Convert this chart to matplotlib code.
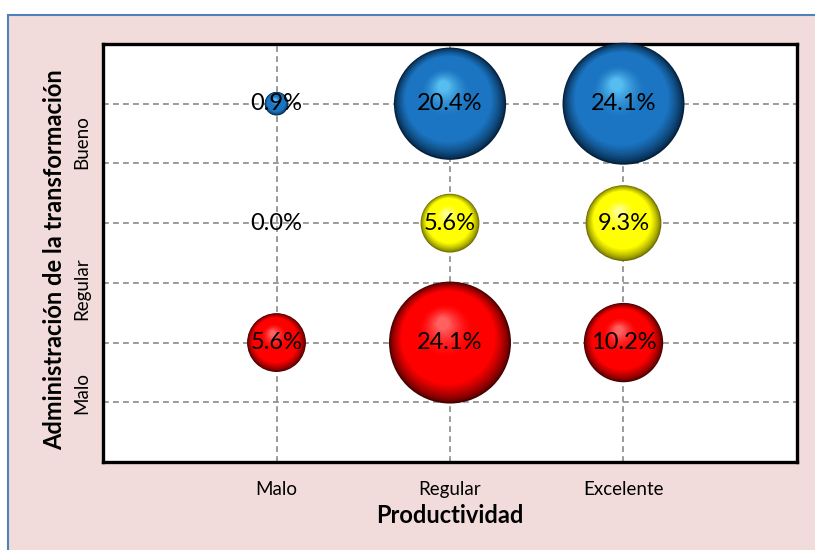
import numpy as np
import matplotlib
matplotlib.use("Agg")
from matplotlib import pyplot as plt
from matplotlib import transforms
from matplotlib.colors import to_rgb
from matplotlib.patches import Rectangle

plt.rcParams['font.family'] = ['Lato', 'DejaVu Sans']

# --- Data: share of cases for each productivity / administration pair
x_labels = ["Malo", "Regular", "Excelente"]
y_labels = ["Malo", "Regular", "Bueno"]
x_pos = [1, 2, 3]
y_pos = [2, 4, 6]

# rows: administración Malo, Regular, Bueno ; columns: productividad Malo, Regular, Excelente
values = [
    [5.6, 24.1, 10.2],
    [0.0, 5.6, 9.3],
    [0.9, 20.4, 24.1],
]

# dark rim, base colour, highlight for each row
row_colors = [
    ("#4a0000", "#ff0000", "#ff6a6a"),
    ("#6b6b00", "#ffff00", "#ffff9a"),
    ("#04213d", "#1b75c2", "#5cc4f5"),
]

size_scale = 320.0  # marker area (pt^2) per percentage point

fig = plt.figure(figsize=(8.15, 5.5), dpi=100, facecolor="white")
fig.patches.append(Rectangle((8 / 815, -0.01), 1.0, 1 - 15 / 550 + 0.01,
                             transform=fig.transFigure, facecolor="#f2dcdb",
                             edgecolor="#4f81bd", linewidth=1.5, zorder=-10))

ax = fig.add_axes([103 / 815, 1 - 462 / 550, 694 / 815, 418 / 550])
ax.set_facecolor("white")
ax.set_xlim(0, 4)
ax.set_ylim(0, 7)

# grid
ax.set_xticks(x_pos)
ax.set_xticklabels(x_labels, fontsize=13.5)
ax.set_yticks([1, 2, 3, 4, 5, 6])
ax.set_yticklabels([])
ax.set_yticks([1.15, 2.9, 5.35], minor=True)
ax.set_yticklabels(y_labels, minor=True, rotation=90, va="center", fontsize=13.5)
ax.tick_params(axis="both", which="both", length=0)
ax.tick_params(axis="x", pad=14)
ax.tick_params(axis="y", which="minor", pad=9)
ax.grid(True, which="major", color="#8a8a8a", linestyle=(0, (3.5, 2.5)), linewidth=1.2, zorder=1)
ax.set_axisbelow(True)
for s in ax.spines.values():
    s.set_linewidth(2.4)
    s.set_color("black")

ax.set_xlabel("Productividad", fontsize=17, fontweight="bold", labelpad=4)
ax.set_ylabel("Administración de la transformación", fontsize=17, fontweight="bold")
ax.yaxis.set_label_coords(-0.053, 0.483)


def shade(t, dark, base, light):
    dark, base, light = np.array(to_rgb(dark)), np.array(to_rgb(base)), np.array(to_rgb(light))
    if t < 0.25:
        return dark + (base - dark) * (t / 0.25) ** 0.7
    if t < 0.6:
        return base
    return base + (light - base) * ((t - 0.6) / 0.4) ** 1.5


# 3D-looking bubbles: stacked circles shrinking toward a highlight point
n_layers = 40
for row, yv in enumerate(y_pos):
    dark, base, light = row_colors[row]
    for col, xv in enumerate(x_pos):
        v = values[row][col]
        area = v * size_scale
        if area <= 0:
            continue
        r_pt = np.sqrt(area) / 2
        for k in range(n_layers):
            t = k / n_layers
            rk = r_pt * (1 - 0.92 * t)
            dx = -0.12 * r_pt * t
            dy = 0.32 * r_pt * t
            tr = transforms.offset_copy(ax.transData, fig=fig, x=dx, y=dy, units="points")
            ax.scatter([xv], [yv], s=(2 * rk) ** 2, color=shade(t, dark, base, light),
                       edgecolors="none", transform=tr, zorder=3 + k * 0.001, clip_on=False)

for row, yv in enumerate(y_pos):
    for col, xv in enumerate(x_pos):
        ax.text(xv, yv, f"{values[row][col]:.1f}%", ha="center", va="center",
                fontsize=17, color="black", zorder=10)

fig.savefig("out.png", dpi=100, facecolor=fig.get_facecolor())
